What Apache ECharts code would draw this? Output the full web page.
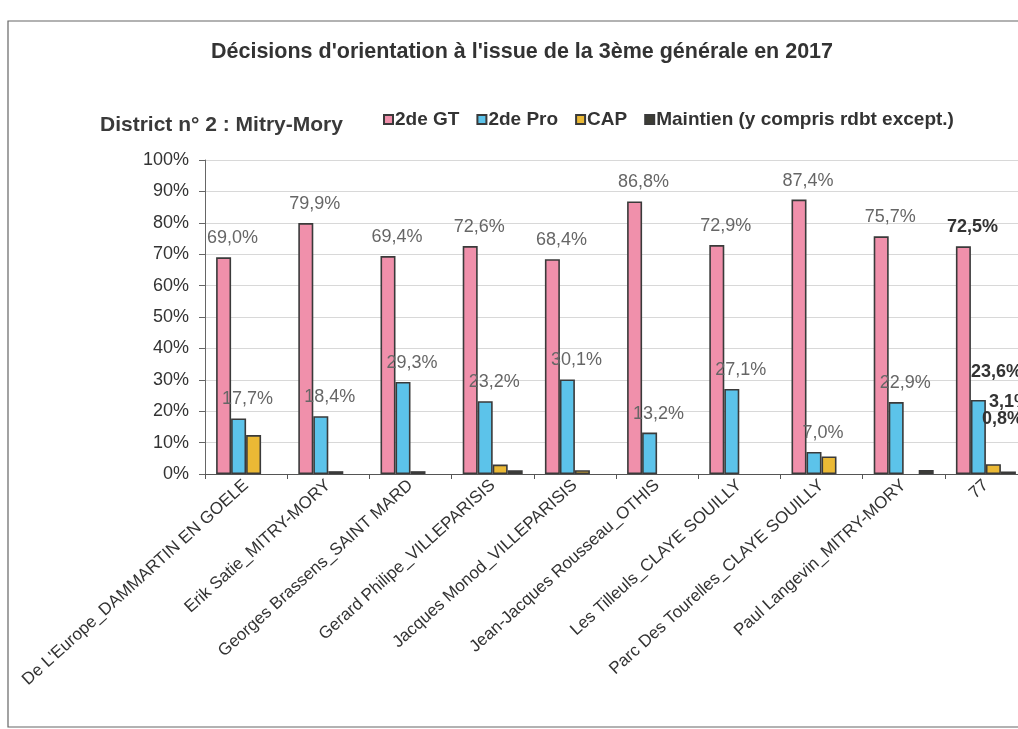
<!DOCTYPE html>
<html>
<head>
<meta charset="utf-8">
<script src="https://cdn.jsdelivr.net/npm/echarts@6/dist/echarts.min.js"></script>
<style>
  html, body { margin: 0; padding: 0; background: #fff; overflow: hidden; }
  #chart { width: 1030px; height: 729px; }
</style>
</head>
<body>
<div id="chart"></div>
<script>
var colleges = [
  "De L'Europe_DAMMARTIN EN GOELE",
  'Erik Satie_MITRY-MORY',
  'Georges Brassens_SAINT MARD',
  'Gerard Philipe_VILLEPARISIS',
  'Jacques Monod_VILLEPARISIS',
  'Jean-Jacques Rousseau_OTHIS',
  'Les Tilleuls_CLAYE SOUILLY',
  'Parc Des Tourelles_CLAYE SOUILLY',
  'Paul Langevin_MITRY-MORY',
  '77'
];
var secondeGT = [69.0, 79.9, 69.4, 72.6, 68.4, 86.8, 72.9, 87.4, 75.7, 72.5];
var secondePro = [17.7, 18.4, 29.3, 23.2, 30.1, 13.2, 27.1, 7.0, 22.9, 23.6];
var cap = [12.4, 0.9, 0.9, 3.0, 1.2, 0, 0, 5.6, 0, 3.1];
var maintien = [0, 0, 0, 1.2, 0, 0, 0, 0, 1.3, 0.8];
var yTicks = [0, 10, 20, 30, 40, 50, 60, 70, 80, 90, 100];

var chart = echarts.init(document.getElementById('chart'));

function fmt(v) {
  return v.toFixed(1).replace('.', ',') + '%';
}

var lastIdx = colleges.length - 1;

// every bar labelled, the 77 one in bold
function allLabels(arr, lastOff) {
  return arr.map(function (v, i) {
    var d = { value: v === 0 ? '-' : v };
    if (i === lastIdx) d.label = { fontWeight: 'bold', color: '#333', offset: lastOff };
    return d;
  });
}
// only the department (77) labelled
function lastOnly(arr, off) {
  return arr.map(function (v, i) {
    var d = { value: v === 0 ? '-' : v };
    if (i === lastIdx) d.label = { show: true, fontWeight: 'bold', color: '#333', offset: off };
    return d;
  });
}

var barBorder = { borderColor: '#3a3a3a', borderWidth: 1.6 };
var labelFmt = function (p) { return fmt(p.value); };

var option = {
  backgroundColor: '#fff',
  animation: false,
  textStyle: { fontFamily: 'Liberation Sans, Arial, sans-serif' },
  title: [{
    text: "Décisions d'orientation à l'issue de la 3ème générale en 2017",
    left: 517, top: 36, textAlign: 'center',
    textStyle: { fontSize: 21.5, fontWeight: 'bold', color: '#333' }
  }, {
    text: 'District n° 2 : Mitry-Mory',
    left: 95, top: 110,
    textStyle: { fontSize: 21, fontWeight: 'bold', color: '#3a3a3a' }
  }],
  legend: {
    left: 378, top: 105,
    itemWidth: 9, itemHeight: 9, itemGap: 17,
    icon: 'rect',
    textStyle: { fontSize: 19, fontWeight: 'bold', color: '#333', padding: [0, 0, 0, -3] },
    data: ['2de GT', '2de Pro', 'CAP', 'Maintien (y compris rdbt except.)']
  },
  graphic: [{
    type: 'rect',
    shape: { x: 8, y: 21, width: 1040, height: 706 },
    style: { fill: 'none', stroke: '#666', lineWidth: 1.2 },
    silent: true
  }],
  grid: { left: 205, right: 3, top: 160, bottom: 255, containLabel: false },
  xAxis: {
    type: 'category',
    data: colleges,
    axisLine: { lineStyle: { color: '#555' } },
    axisTick: { show: true, length: 5, lineStyle: { color: '#555' } },
    axisLabel: { rotate: 42, interval: 0, fontSize: 17, color: '#333', margin: 9 }
  },
  yAxis: {
    type: 'value',
    min: yTicks[0], max: yTicks[yTicks.length - 1], interval: 10,
    axisLine: { show: true, lineStyle: { color: '#666' } },
    axisTick: { show: true, length: 6, lineStyle: { color: '#666' } },
    axisLabel: { fontSize: 18, color: '#333', margin: 16, formatter: '{value}%' },
    splitLine: { lineStyle: { color: '#d8d8d8' } }
  },
  series: [{
    name: '2de GT', type: 'bar', barWidth: 15, barGap: '0%',
    itemStyle: Object.assign({ color: '#f090ab' }, barBorder),
    label: { show: true, position: 'top', distance: 10, fontSize: 18, color: '#666',
      offset: [9, 0], formatter: labelFmt },
    data: allLabels(secondeGT, [9, 0])
  }, {
    name: '2de Pro', type: 'bar', barWidth: 15, barGap: '0%',
    itemStyle: Object.assign({ color: '#5cc3ea' }, barBorder),
    label: { show: true, position: 'top', distance: 10, fontSize: 18, color: '#666',
      offset: [9, 0], formatter: labelFmt },
    data: allLabels(secondePro, [18, -9])
  }, {
    name: 'CAP', type: 'bar', barWidth: 15, barGap: '0%',
    itemStyle: Object.assign({ color: '#ebb935' }, barBorder),
    label: { show: false, position: 'top', distance: 10, fontSize: 18, formatter: labelFmt },
    data: lastOnly(cap, [16, -43])
  }, {
    name: 'Maintien (y compris rdbt except.)', type: 'bar', barWidth: 15, barGap: '0%',
    itemStyle: Object.assign({ color: '#3d3d35' }, barBorder),
    label: { show: false, position: 'top', distance: 10, fontSize: 18, formatter: labelFmt },
    data: lastOnly(maintien, [-6, -33])
  }]
};

chart.setOption(option);
window.addEventListener('resize', function () { chart.resize(); });
</script>
</body>
</html>
